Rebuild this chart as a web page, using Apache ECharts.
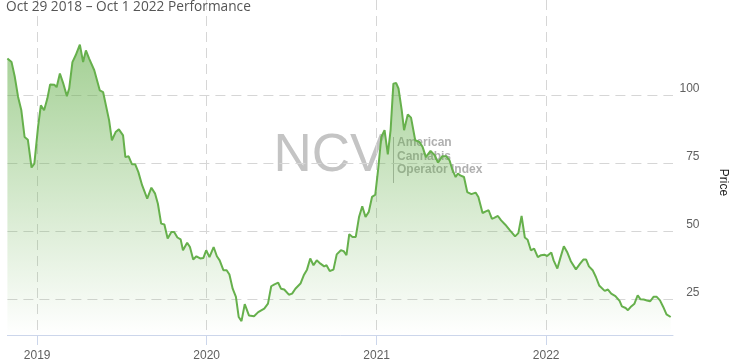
<!DOCTYPE html>
<html>
<head>
<meta charset="utf-8">
<script src="https://cdn.jsdelivr.net/npm/echarts@6/dist/echarts.min.js"></script>
<style>
html,body{margin:0;padding:0;background:#fff;}
#chart{width:737px;height:364px;}
</style>
</head>
<body>
<div id="chart"></div>
<script>
const titleText = 'Oct 29 2018 – Oct 1 2022 Performance';
const xStart = '2018-10-29';
const xEnd = '2022-10-01';
const yearTicks = ['2019-01-01', '2020-01-01', '2021-01-01', '2022-01-01'];
const priceTicks = [25, 50, 75, 100];
const yMin = 12;
const yMax = 135;

const dates = [
'2018-10-29','2018-11-07','2018-11-14','2018-11-21','2018-11-28','2018-12-05','2018-12-12','2018-12-20','2018-12-26',
'2019-01-03','2019-01-09','2019-01-16','2019-01-23','2019-01-29','2019-02-07','2019-02-12','2019-02-19','2019-02-26',
'2019-03-06','2019-03-11','2019-03-18','2019-03-25','2019-04-03','2019-04-10','2019-04-16','2019-04-23','2019-05-04',
'2019-05-16','2019-05-23','2019-06-05','2019-06-11','2019-06-19','2019-06-26','2019-07-05','2019-07-10','2019-07-17',
'2019-07-24','2019-07-31','2019-08-07','2019-08-15','2019-08-26','2019-09-04','2019-09-12','2019-09-18','2019-09-25',
'2019-10-02','2019-10-09','2019-10-17','2019-10-23','2019-10-30','2019-11-06','2019-11-11','2019-11-20','2019-11-26',
'2019-12-03','2019-12-10','2019-12-18','2019-12-25','2019-12-31','2020-01-07','2020-01-16','2020-01-23','2020-01-29',
'2020-02-06','2020-02-13','2020-02-19','2020-02-26','2020-03-04','2020-03-10','2020-03-16','2020-03-23','2020-04-01',
'2020-04-12','2020-04-21','2020-05-04','2020-05-12','2020-05-19','2020-05-26','2020-06-03','2020-06-09','2020-06-16',
'2020-06-26','2020-07-03','2020-07-10','2020-07-21','2020-07-28','2020-08-04','2020-08-11','2020-08-18','2020-08-25',
'2020-09-02','2020-09-10','2020-09-15','2020-09-22','2020-09-30','2020-10-07','2020-10-16','2020-10-22','2020-10-28',
'2020-11-03','2020-11-10','2020-11-17','2020-11-24','2020-12-01','2020-12-08','2020-12-15','2020-12-22','2020-12-29',
'2021-01-04','2021-01-11','2021-01-18','2021-01-25','2021-01-31','2021-02-06','2021-02-12','2021-02-17','2021-02-24',
'2021-03-01','2021-03-09','2021-03-16','2021-03-25','2021-04-03','2021-04-10','2021-04-17','2021-04-27','2021-05-06',
'2021-05-13','2021-05-22','2021-05-31','2021-06-07','2021-06-13','2021-06-20','2021-06-25','2021-06-30','2021-07-08',
'2021-07-15','2021-07-24','2021-08-02','2021-08-08','2021-08-17','2021-08-24','2021-08-30','2021-09-06','2021-09-11',
'2021-09-19','2021-09-26','2021-10-05','2021-10-15','2021-10-26','2021-11-02','2021-11-09','2021-11-16','2021-11-22',
'2021-11-29','2021-12-06','2021-12-14','2021-12-21','2021-12-28','2022-01-03','2022-01-12','2022-01-17','2022-01-25',
'2022-02-01','2022-02-08','2022-02-15','2022-02-23','2022-03-06','2022-03-15','2022-03-22','2022-03-28','2022-04-03',
'2022-04-11','2022-04-18','2022-04-25','2022-05-07','2022-05-14','2022-05-21','2022-05-30','2022-06-08','2022-06-13',
'2022-06-21','2022-06-26','2022-07-03','2022-07-10','2022-07-17','2022-07-23','2022-07-30','2022-08-06','2022-08-13',
'2022-08-20','2022-08-27','2022-09-03','2022-09-10','2022-09-17','2022-09-26'
];

const prices = [
113.5,112.2,106.7,99.4,94.5,84.7,83.7,73.5,74.9,
88.4,96.3,94.5,98.8,104.0,103.9,103.0,108.0,104.5,
99.7,102.5,112.2,114.7,118.6,112.2,116.5,113.5,109.2,
101.8,101.2,90.8,83.5,86.5,87.5,85.3,77.3,77.6,
74.7,74.7,71.8,67.0,62.1,66.1,63.9,60.2,52.9,
52.6,47.4,49.8,49.8,47.8,47.1,43.1,45.9,44.3,
39.7,40.9,40.1,40.3,43.1,40.6,44.3,40.9,39.4,
35.8,35.8,34.2,29.0,26.0,18.6,17.1,23.3,19.2,
18.9,20.4,21.7,23.5,29.9,30.6,31.2,29.0,28.7,
26.8,27.2,29.0,30.9,33.9,36.0,40.1,37.6,39.4,
38.2,37.2,37.6,35.5,36.0,41.6,43.1,42.8,41.3,
49.0,48.0,48.0,55.3,59.3,55.3,57.2,62.7,63.5,
72.5,84.7,87.2,78.3,87.2,104.3,104.5,102.5,94.5,
87.2,93.0,91.8,83.5,82.9,81.0,77.3,79.6,78.0,
75.3,77.6,77.6,76.1,72.7,70.0,71.3,70.6,70.0,
64.5,63.7,64.3,62.7,56.8,57.4,57.8,54.7,55.0,
55.7,54.1,52.5,50.4,48.2,49.4,55.7,47.8,47.0,
43.1,43.7,40.6,41.3,41.5,41.0,42.3,39.4,36.4,
40.6,44.6,42.5,39.1,36.1,38.2,39.7,39.7,37.2,
35.8,33.3,30.2,28.2,28.7,27.2,26.3,24.5,22.5,
21.9,21.1,22.5,23.5,26.6,25.1,25.0,24.7,24.4,
26.0,26.0,24.7,22.3,19.6,18.6
];

const toTime = s => echarts.number.parseDate(s).getTime();
const seriesData = dates.map((d, i) => [toTime(d), prices[i]]);
const yearTickTimes = yearTicks.map(toTime);

const chart = echarts.init(document.getElementById('chart'), null, {renderer: 'canvas'});
const labelFont = '"Liberation Sans", Arial, sans-serif';
const gridDash = {color: '#d6d6d6', width: 1, type: [10, 6]};

chart.setOption({
  animation: false,
  backgroundColor: '#ffffff',
  title: {
    text: titleText,
    left: 6,
    top: 0,
    padding: 0,
    textStyle: {fontFamily: '"Open Sans", sans-serif', fontSize: 13.7, fontWeight: 'normal', color: '#555555', lineHeight: 15}
  },
  grid: {left: 7.4, right: 57.5, top: 0, bottom: 29, containLabel: false},
  xAxis: {
    type: 'value',
    min: toTime(xStart),
    max: toTime(xEnd),
    axisLine: {show: true, lineStyle: {color: '#ccd6eb', width: 1}},
    axisTick: {show: true, length: 10, lineStyle: {color: '#ccd6eb'}, customValues: yearTickTimes},
    axisLabel: {
      customValues: yearTickTimes,
      margin: 15,
      color: '#606060',
      fontSize: 12,
      fontFamily: labelFont,
      formatter: v => String(new Date(v).getFullYear())
    },
    splitLine: {show: true, lineStyle: gridDash}
  },
  yAxis: {
    type: 'value',
    position: 'right',
    min: yMin,
    max: yMax,
    name: 'Price',
    nameLocation: 'middle',
    nameRotate: -90,
    nameGap: 44,
    nameTextStyle: {color: '#222222', fontSize: 12, fontFamily: labelFont, padding: [0, 0, 0, 30]},
    axisLine: {show: false},
    axisTick: {show: false, customValues: priceTicks},
    axisLabel: {
      customValues: priceTicks,
      margin: 26.5,
      align: 'right',
      verticalAlign: 'bottom',
      lineHeight: 14,
      color: '#606060',
      fontSize: 12,
      fontFamily: labelFont
    },
    splitLine: {show: true, lineStyle: gridDash}
  },
  graphic: [
    {type: 'text', z: 0, x: 273.5, y: 156, style: {text: 'NCV', font: '53px "Liberation Sans", Arial, sans-serif', fill: '#c4c4c4', align: 'left', verticalAlign: 'middle'}},
    {type: 'line', z: 0, shape: {x1: 393.5, y1: 137, x2: 393.5, y2: 183}, style: {stroke: '#b5b5b5', lineWidth: 1}},
    {type: 'text', z: 0, x: 397, y: 143, style: {text: 'American', font: 'bold 12px "Liberation Sans", Arial, sans-serif', fill: '#b0b0b0', align: 'left', verticalAlign: 'middle'}},
    {type: 'text', z: 0, x: 397, y: 156.5, style: {text: 'Cannabis', font: 'bold 12px "Liberation Sans", Arial, sans-serif', fill: '#b0b0b0', align: 'left', verticalAlign: 'middle'}},
    {type: 'text', z: 0, x: 397, y: 170, style: {text: 'Operator Index', font: 'bold 12px "Liberation Sans", Arial, sans-serif', fill: '#b0b0b0', align: 'left', verticalAlign: 'middle'}}
  ],
  series: [{
    type: 'line',
    data: seriesData,
    showSymbol: false,
    symbol: 'none',
    smooth: false,
    lineStyle: {color: '#66b04c', width: 2},
    itemStyle: {color: '#66b04c'},
    areaStyle: {
      color: new echarts.graphic.LinearGradient(0, 0, 0, 1, [
        {offset: 0, color: 'rgba(102,176,76,0.85)'},
        {offset: 1, color: 'rgba(102,176,76,0)'}
      ])
    }
  }]
});
</script>
</body>
</html>
